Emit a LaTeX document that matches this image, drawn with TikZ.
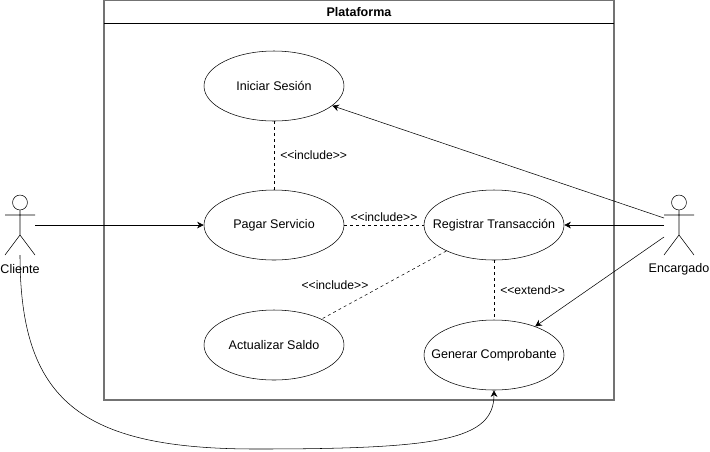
\documentclass[tikz,border=0pt]{standalone}
\usepackage{fontspec}
\setmainfont{Liberation Sans}
\usetikzlibrary{shapes.geometric,arrows.meta}
\begin{document}
\begin{tikzpicture}[x=0.75pt,y=-0.75pt,
    usecase/.style={draw,ellipse,minimum width=105pt,minimum height=52.5pt,inner xsep=-11pt,inner ysep=0pt,font=\fontsize{9.4}{11}\selectfont},
    actor/.style={minimum width=22.5pt,minimum height=45pt,inner sep=0pt,outer sep=0pt},
    tag/.style={font=\fontsize{9.1}{10}\selectfont,inner sep=1.5pt},
    assoc/.style={-{Stealth[length=5pt,width=5pt]}},
    dep/.style={dashed,dash pattern=on 2.25pt off 2.25pt}]
    \useasboundingbox (0,0) rectangle (710,451);
    \draw[line width=1pt,black!55] (104,0.7) rectangle (614,400);
    \draw (104,23) -- (614,23);
    \node[font=\fontsize{9.4}{11}\selectfont\bfseries] (titulo) at (359,12.5) {Plataforma};

    \node[usecase] (iniciar) at (274,86) {Iniciar Sesión};
    \node[usecase] (pagar) at (274,225) {Pagar Servicio};
    \node[usecase] (registrar) at (494,225) {Registrar Transacción};
    \node[usecase] (actualizar) at (274,345) {Actualizar Saldo};
    \node[usecase] (generar) at (494,355) {Generar Comprobante};

    \node[actor] (cliente) at (20,225) {};
    \draw (20,202.5) circle[radius=5.6pt];
    \draw (20,210) -- (20,235) (5,215) -- (35,215) (5,255) -- (20,235) -- (35,255);
    \node[font=\fontsize{9.4}{11}\selectfont] (clienteTxt) at (20,269) {Cliente};

    \node[actor] (encargado) at (679,225) {};
    \draw (679,202.5) circle[radius=5.6pt];
    \draw (679,210) -- (679,235) (664,215) -- (694,215) (664,255) -- (679,235) -- (694,255);
    \node[font=\fontsize{9.4}{11}\selectfont] (encargadoTxt) at (679,269) {Encargado};

    \draw[assoc] (cliente.east) -- (pagar);
    \draw[assoc] ([yshift=5.25pt]encargado.west) -- (iniciar);
    \draw[assoc] (encargado.west) -- (registrar);
    \draw[assoc] ([yshift=-9pt]encargado.west) -- (generar);

    \draw[dep] (iniciar) -- node[tag,right=3pt] {<\kern0pt<include>\kern0pt>} (pagar);
    \draw[dep] (pagar) -- node[tag,above=1pt] {<\kern0pt<include>\kern0pt>} (registrar);
    \draw[dep] (registrar) -- node[tag,left=10pt] {<\kern0pt<include>\kern0pt>} (actualizar);
    \draw[dep] (registrar) -- node[tag,right=3pt] {<\kern0pt<extend>\kern0pt>} (generar);

    \draw[assoc] (cliente.south) .. controls (20,400) and (80,449) .. (256,449)
      .. controls (440,449) and (494,440) .. (generar.south);
  \end{tikzpicture}
\end{document}
